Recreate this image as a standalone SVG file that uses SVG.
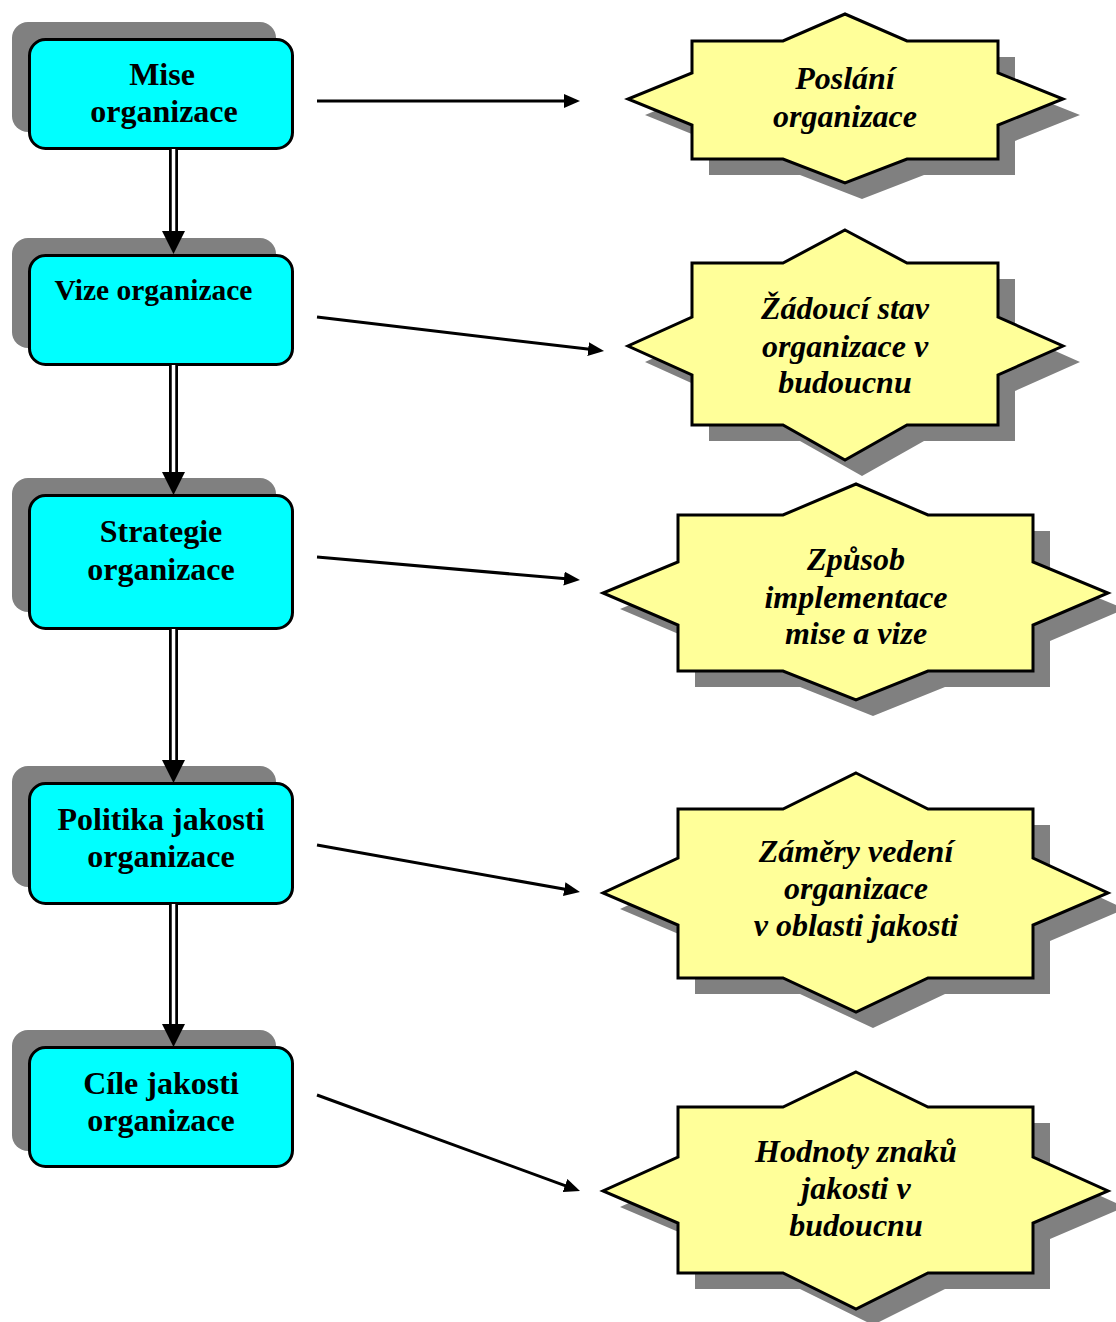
<svg xmlns="http://www.w3.org/2000/svg" xmlns:xlink="http://www.w3.org/1999/xlink" width="1116" height="1322" viewBox="0 0 1116 1322">
  <style>
    .shadow { fill: #808080; }
    .box { fill: #00FFFF; stroke: #000; stroke-width: 3; }
    .star { fill: #FFFF99; stroke: #000; stroke-width: 3; stroke-linejoin: miter; }
    .btxt { font-family: "Liberation Serif", "Times New Roman", serif; font-weight: bold; font-size: 32px; fill: #000; text-anchor: middle; }
    .stxt { font-family: "Liberation Serif", "Times New Roman", serif; font-weight: bold; font-style: italic; font-size: 32px; fill: #000; text-anchor: middle; }
    .arrow { stroke: #000; stroke-width: 3; fill: none; }
    .dbl-outer { stroke: #000; stroke-width: 9; }
    .dbl-inner { stroke: #fff; stroke-width: 3.5; }
    .head { fill: #000; }
  </style>
  <defs>
    <marker id="tip" markerUnits="userSpaceOnUse" markerWidth="16" markerHeight="14" refX="8" refY="7" orient="auto">
      <path d="M0,0 L16,7 L0,14 Z" fill="#000"/>
    </marker>
    <path id="star1" d="M845,14 L907,41 L998,41 L998,73 L1063,99 L998,125 L998,159 L907,159 L845,183 L783,159 L692,159 L692,125 L628,99 L692,73 L692,41 L783,41 Z"/>
    <path id="star2" d="M845,230 L907,263 L998,263 L998,317 L1063,346 L998,375 L998,425 L907,425 L845,460 L783,425 L692,425 L692,375 L628,346 L692,317 L692,263 L783,263 Z"/>
    <path id="star3" d="M856,484 L928,515 L1033,515 L1033,562 L1108,593 L1033,625 L1033,671 L928,671 L856,700 L783,671 L678,671 L678,625 L603,593 L678,562 L678,515 L783,515 Z"/>
    <path id="star4" d="M856,773 L928,809 L1033,809 L1033,858 L1108,893 L1033,925 L1033,978 L928,978 L856,1012 L783,978 L678,978 L678,925 L603,893 L678,858 L678,809 L783,809 Z"/>
    <path id="star5" d="M856,1072 L928,1107 L1033,1107 L1033,1157 L1108,1191 L1033,1223 L1033,1273 L928,1273 L856,1309 L783,1273 L678,1273 L678,1223 L603,1191 L678,1157 L678,1107 L783,1107 Z"/>
  </defs>

  <rect width="1116" height="1322" fill="#fff"/>

  <!-- left column: organisation levels -->
  <g id="mise">
    <rect class="shadow" x="12" y="22" width="264" height="110" rx="16"/>
    <rect class="box" x="29.5" y="39.5" width="263" height="109" rx="16"/>
    <text class="btxt" x="162" y="85">Mise</text>
    <text class="btxt" x="164" y="122">organizace</text>
  </g>
  <g id="vize">
    <rect class="shadow" x="12" y="238" width="264" height="110" rx="16"/>
    <rect class="box" x="29.5" y="255.5" width="263" height="109" rx="16"/>
    <text class="btxt" x="153.5" y="300" style="font-size:29.5px">Vize organizace</text>
  </g>
  <g id="strategie">
    <rect class="shadow" x="12" y="478" width="264" height="134" rx="16"/>
    <rect class="box" x="29.5" y="495.5" width="263" height="133" rx="16"/>
    <text class="btxt" x="161" y="542">Strategie</text>
    <text class="btxt" x="161" y="580">organizace</text>
  </g>
  <g id="politika">
    <rect class="shadow" x="12" y="766" width="264" height="121" rx="16"/>
    <rect class="box" x="29.5" y="783.5" width="263" height="120" rx="16"/>
    <text class="btxt" x="161" y="830">Politika jakosti</text>
    <text class="btxt" x="161" y="867">organizace</text>
  </g>
  <g id="cile">
    <rect class="shadow" x="12" y="1030" width="264" height="121" rx="16"/>
    <rect class="box" x="29.5" y="1047.5" width="263" height="119" rx="16"/>
    <text class="btxt" x="161" y="1094">Cíle jakosti</text>
    <text class="btxt" x="161" y="1131">organizace</text>
  </g>

  <!-- right column: meanings -->
  <g id="poslani">
    <use xlink:href="#star1" href="#star1" class="shadow" transform="translate(17,16)"/>
    <use xlink:href="#star1" href="#star1" class="star"/>
    <text class="stxt" x="845" y="89">Poslání</text>
    <text class="stxt" x="845" y="127">organizace</text>
  </g>
  <g id="zadouci-stav">
    <use xlink:href="#star2" href="#star2" class="shadow" transform="translate(17,16)"/>
    <use xlink:href="#star2" href="#star2" class="star"/>
    <text class="stxt" x="845" y="319">Žádoucí stav</text>
    <text class="stxt" x="845" y="357">organizace v</text>
    <text class="stxt" x="845" y="393">budoucnu</text>
  </g>
  <g id="zpusob">
    <use xlink:href="#star3" href="#star3" class="shadow" transform="translate(17,16)"/>
    <use xlink:href="#star3" href="#star3" class="star"/>
    <text class="stxt" x="856" y="570">Způsob</text>
    <text class="stxt" x="856" y="608">implementace</text>
    <text class="stxt" x="856" y="644">mise a vize</text>
  </g>
  <g id="zamery">
    <use xlink:href="#star4" href="#star4" class="shadow" transform="translate(17,16)"/>
    <use xlink:href="#star4" href="#star4" class="star"/>
    <text class="stxt" x="856" y="862">Záměry vedení</text>
    <text class="stxt" x="856" y="899">organizace</text>
    <text class="stxt" x="856" y="936">v oblasti jakosti</text>
  </g>
  <g id="hodnoty">
    <use xlink:href="#star5" href="#star5" class="shadow" transform="translate(17,16)"/>
    <use xlink:href="#star5" href="#star5" class="star"/>
    <text class="stxt" x="856" y="1162">Hodnoty znaků</text>
    <text class="stxt" x="856" y="1199">jakosti v</text>
    <text class="stxt" x="856" y="1236">budoucnu</text>
  </g>

  <!-- connectors -->
  <g id="connectors">
    <!-- double-line links down the left column -->
    <line class="dbl-outer" x1="173.5" y1="149" x2="173.5" y2="232"/>
    <line class="dbl-inner" x1="173.5" y1="149" x2="173.5" y2="232"/>
    <polygon class="head" points="162,231 185,231 173.5,254"/>

    <line class="dbl-outer" x1="173.5" y1="365" x2="173.5" y2="473"/>
    <line class="dbl-inner" x1="173.5" y1="365" x2="173.5" y2="473"/>
    <polygon class="head" points="162,472 185,472 173.5,495"/>

    <line class="dbl-outer" x1="173.5" y1="629" x2="173.5" y2="761"/>
    <line class="dbl-inner" x1="173.5" y1="629" x2="173.5" y2="761"/>
    <polygon class="head" points="162,760 185,760 173.5,783"/>

    <line class="dbl-outer" x1="173.5" y1="904" x2="173.5" y2="1025"/>
    <line class="dbl-inner" x1="173.5" y1="904" x2="173.5" y2="1025"/>
    <polygon class="head" points="162,1024 185,1024 173.5,1047"/>

    <!-- links to the right column -->
    <line class="arrow" x1="317" y1="101" x2="572" y2="101" marker-end="url(#tip)"/>
    <line class="arrow" x1="317" y1="317" x2="596.1" y2="350.1" marker-end="url(#tip)"/>
    <line class="arrow" x1="317" y1="557" x2="572" y2="579.3" marker-end="url(#tip)"/>
    <line class="arrow" x1="317" y1="845" x2="572.1" y2="890.6" marker-end="url(#tip)"/>
    <line class="arrow" x1="317" y1="1095" x2="572.5" y2="1188.3" marker-end="url(#tip)"/>
  </g>
</svg>
